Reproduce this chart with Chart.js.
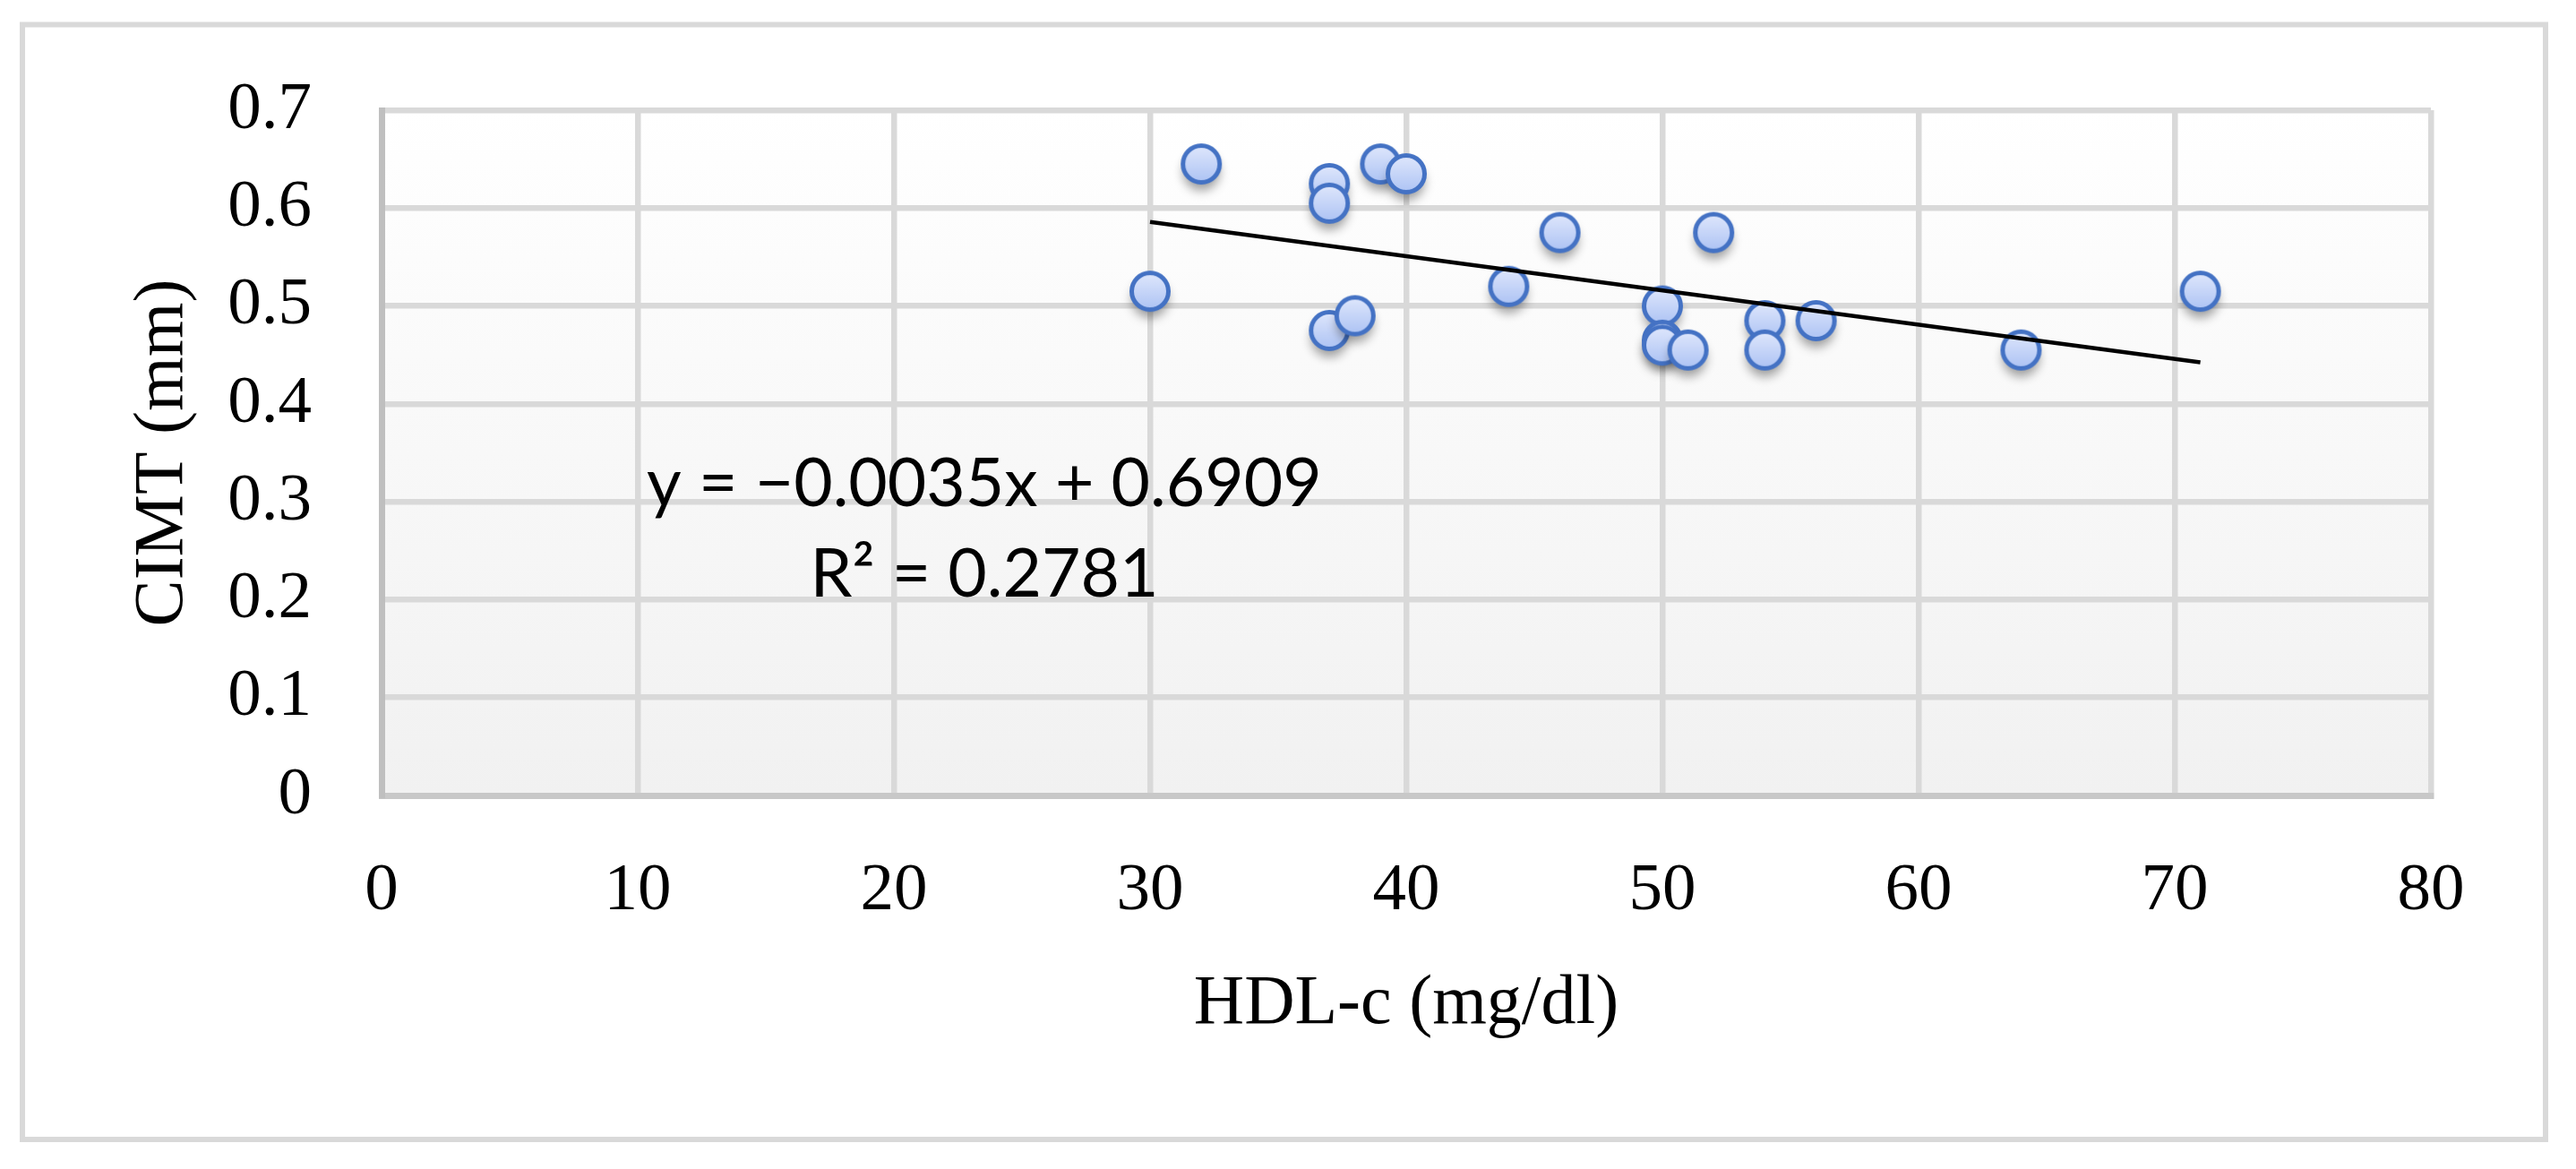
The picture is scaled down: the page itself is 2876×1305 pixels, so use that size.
<!DOCTYPE html>
<html>
<head>
<meta charset="utf-8">
<script src="https://cdn.jsdelivr.net/npm/chart.js@4.4.1/dist/chart.umd.min.js"></script>
<style>
html,body{margin:0;padding:0;background:#fff;}
#wrap{width:2876px;height:1305px;position:relative;}
canvas{display:block;}
</style>
</head>
<body>
<div id="wrap"><canvas id="c" width="2876" height="1305"></canvas></div>
<script>
// ---- data ----
const hdl  = [30, 32, 37, 37, 37, 38, 39, 40, 44, 46, 50, 50, 50, 51, 52, 54, 54, 56, 64, 71];
const cimt = [0.515, 0.645, 0.625, 0.605, 0.475, 0.49, 0.645, 0.635, 0.52, 0.575, 0.50, 0.465, 0.46, 0.455, 0.575, 0.485, 0.455, 0.485, 0.455, 0.515];
const xTickLabels = ['0', '10', '20', '30', '40', '50', '60', '70', '80'];
const yTickLabels = ['0', '0.1', '0.2', '0.3', '0.4', '0.5', '0.6', '0.7'];
const trendSlope = -0.0035;
const trendIntercept = 0.6909;
const eqLines = ['y = \u22120.0035x + 0.6909', 'R\u00B2 = 0.2781'];
const xTitle = 'HDL-c (mg/dl)';
const yTitle = 'CIMT (mm)';

// ---- derived ----
const points = hdl.map((x, i) => ({x: x, y: cimt[i]}));
const xMin = Math.min(...hdl), xMax = Math.max(...hdl);
const trend = [xMin, xMax].map(x => ({x: x, y: trendSlope * x + trendIntercept}));

// label anchor (data units)
const eqAnchor = {x: 23.53, y: [0.2954, 0.2034]};

// marker image (circle centred in the image, soft shadow below)
function makeMarker() {
  const c = document.createElement('canvas');
  c.width = 100; c.height = 100;
  const g = c.getContext('2d');
  const cx = 50, cy = 50, r = 20.5;
  g.save();
  g.shadowColor = 'rgba(0,0,0,0.38)';
  g.shadowBlur = 12;
  g.shadowOffsetY = 9;
  const grad = g.createLinearGradient(0, cy - r, 0, cy + r);
  grad.addColorStop(0, '#dfe7fc');
  grad.addColorStop(1, '#adc3f4');
  g.beginPath(); g.arc(cx, cy, r, 0, Math.PI * 2);
  g.fillStyle = grad; g.fill();
  g.restore();
  g.beginPath(); g.arc(cx, cy, r, 0, Math.PI * 2);
  g.lineWidth = 5; g.strokeStyle = '#4472c4'; g.stroke();
  return c;
}
const marker = makeMarker();

const framePlugin = {
  id: 'frame',
  beforeDraw(chart) {
    const {ctx, chartArea: a} = chart;
    ctx.save();
    ctx.fillStyle = '#ffffff';
    ctx.fillRect(0, 0, chart.width, chart.height);
    ctx.strokeStyle = '#d9d9d9';
    ctx.lineWidth = 6;
    ctx.strokeRect(25, 27.5, 2817, 1244.5);
    const g = ctx.createLinearGradient(0, a.top, 0, a.bottom);
    g.addColorStop(0, '#ffffff');
    g.addColorStop(1, '#f1f1f1');
    ctx.fillStyle = g;
    ctx.fillRect(a.left, a.top, a.right - a.left, a.bottom - a.top);
    ctx.restore();
  },
  afterDatasetsDraw(chart) {
    const {ctx} = chart;
    const xs = chart.scales.x, ys = chart.scales.y;
    ctx.save();
    ctx.font = '75px Lato';
    ctx.fillStyle = '#000';
    ctx.textAlign = 'center';
    ctx.textBaseline = 'alphabetic';
    eqLines.forEach((t, i) => {
      ctx.fillText(t, xs.getPixelForValue(eqAnchor.x), ys.getPixelForValue(eqAnchor.y[i]));
    });
    ctx.restore();
  }
};

const serif = 'Liberation Serif';

new Chart(document.getElementById('c'), {
  type: 'scatter',
  data: {
    datasets: [
      {
        label: 'Linear trend',
        data: trend,
        showLine: true,
        borderColor: '#000000',
        borderWidth: 4.5,
        pointRadius: 0,
        pointHoverRadius: 0,
        fill: false
      },
      {
        label: 'CIMT',
        data: points,
        pointStyle: marker,
        pointRadius: 20,
        pointHoverRadius: 20,
        backgroundColor: '#c5d4f7',
        borderColor: '#4472c4'
      }
    ]
  },
  options: {
    responsive: false,
    animation: false,
    devicePixelRatio: 1,
    layout: {padding: {left: 0, top: 119, right: 162, bottom: 0}},
    plugins: {legend: {display: false}, tooltip: {enabled: false}},
    scales: {
      x: {
        type: 'linear', min: 0, max: 80,
        ticks: {
          stepSize: 10, padding: 62, maxRotation: 0, autoSkip: false,
          color: '#000', font: {family: serif, size: 75},
          callback: (v, i) => xTickLabels[i]
        },
        grid: {color: '#d9d9d9', lineWidth: 6.5, drawTicks: false},
        border: {color: '#c8c8c8', width: 7},
        title: {display: true, text: xTitle, color: '#000', font: {family: serif, size: 78}, padding: {top: 0, bottom: 137}},
        afterFit(s) { s.height = 417; }
      },
      y: {
        type: 'linear', min: 0, max: 0.7,
        ticks: {
          stepSize: 0.1, padding: 78, autoSkip: false,
          color: '#000', font: {family: serif, size: 75},
          callback: (v, i) => yTickLabels[i]
        },
        grid: {color: '#d9d9d9', lineWidth: 6.5, drawTicks: false},
        border: {color: '#bfbfbf', width: 7},
        title: {display: true, text: yTitle, color: '#000', font: {family: serif, size: 78}, padding: {top: 136, bottom: 0}},
        afterFit(s) { s.width = 426; }
      }
    }
  },
  plugins: [framePlugin]
});
</script>
</body>
</html>
